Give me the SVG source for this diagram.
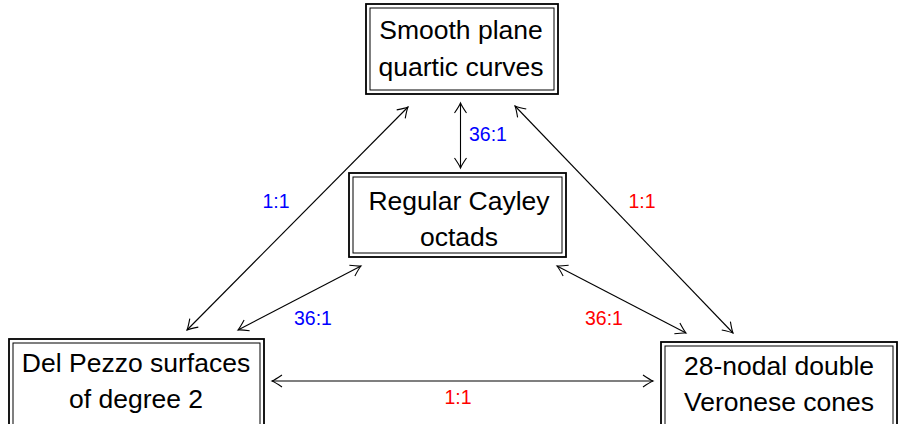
<svg xmlns="http://www.w3.org/2000/svg" width="900" height="424" viewBox="0 0 900 424">
<defs>
<marker id="ah" viewBox="-12 -8 14 16" refX="0" refY="0" markerWidth="14" markerHeight="16" markerUnits="userSpaceOnUse" orient="auto-start-reverse">
<path d="M-10,-6 Q-3,-1.2 0,0 Q-3,1.2 -10,6" fill="none" stroke="#000" stroke-width="1.1"/>
</marker>
</defs>
<style>
.outer{fill:#fff;stroke:#000;stroke-width:1.8}
.inner{fill:none;stroke:#000;stroke-width:1}
.nt{font-family:"Liberation Sans",Arial,sans-serif;font-size:26.5px;fill:#000;text-anchor:middle}
.lb{font-family:"Liberation Sans",Arial,sans-serif;font-size:19.5px;text-anchor:middle}
.blue{fill:#0000ff}
.red{fill:#ff0000}
.c{fill:none;stroke:#000;stroke-width:1.1;marker-start:url(#ah);marker-end:url(#ah)}
</style>
<rect width="900" height="424" fill="#fff"/>
<g id="connectors">
<line class="c" x1="408" y1="107" x2="187" y2="330"/>
<line class="c" x1="515" y1="106" x2="733" y2="333"/>
<line class="c" x1="460.5" y1="103" x2="460.5" y2="168"/>
<line class="c" x1="361" y1="266" x2="238" y2="330"/>
<line class="c" x1="557" y1="266" x2="686" y2="333"/>
<line class="c" x1="272" y1="381" x2="653" y2="381"/>
<text class="lb blue" x="276" y="208">1:1</text>
<text class="lb red" x="642" y="208">1:1</text>
<text class="lb blue" x="488" y="141">36:1</text>
<text class="lb blue" x="313" y="325">36:1</text>
<text class="lb red" x="604" y="325">36:1</text>
<text class="lb red" x="458" y="404">1:1</text>
</g>
<g id="smooth">
<rect class="outer" x="366" y="4" width="192" height="90"/>
<rect class="inner" x="370" y="8" width="184" height="82"/>
<text class="nt" x="461" y="39">Smooth plane</text>
<text class="nt" x="461" y="76">quartic curves</text>
</g>
<g id="cayley">
<rect class="outer" x="349" y="173" width="217" height="84"/>
<rect class="inner" x="353" y="177" width="209" height="76"/>
<text class="nt" x="459" y="210">Regular Cayley</text>
<text class="nt" x="459" y="246">octads</text>
</g>
<g id="delpezzo">
<rect class="outer" x="9" y="339" width="255" height="90"/>
<rect class="inner" x="13" y="343" width="247" height="90"/>
<text class="nt" x="136" y="372">Del Pezzo surfaces</text>
<text class="nt" x="136" y="408">of degree 2</text>
</g>
<g id="veronese">
<rect class="outer" x="661" y="342" width="236" height="90"/>
<rect class="inner" x="665" y="346" width="228" height="90"/>
<text class="nt" x="779" y="375">28-nodal double</text>
<text class="nt" x="779" y="411">Veronese cones</text>
</g>
</svg>
